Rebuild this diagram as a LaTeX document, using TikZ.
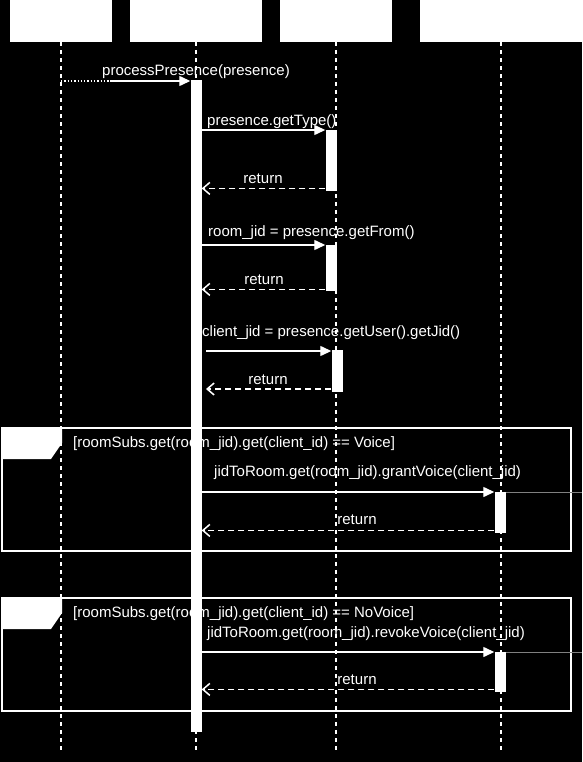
\documentclass[tikz,border=0pt]{standalone}
\usepackage{fontspec}
\setmainfont{Liberation Sans}
\usetikzlibrary{arrows.meta}
\begin{document}
\begin{tikzpicture}[x=1pt,y=-1pt,
  lbl/.style={font=\fontsize{15}{17}\selectfont, text=white, inner sep=0pt, anchor=base west},
  rlbl/.style={font=\fontsize{15}{17}\selectfont, text=white, inner sep=0pt, anchor=base},
  head/.style={fill=white, draw=none, inner sep=0pt, minimum height=42pt, anchor=north},
  life/.style={white, dash pattern=on 4pt off 4pt, line width=1.4pt},
  act/.style={fill=white, draw=none, inner sep=0pt, minimum width=11pt, anchor=north},
  call/.style={white, line width=1.3pt, -{Triangle[width=10pt,length=11pt]}},
  ret/.style={white, line width=1.5pt, dash pattern=on 6pt off 4pt, -{Straight Barb[width=12pt,length=7pt,line width=1.5pt]}},
  frm/.style={draw=white, line width=1.4pt},
  thin/.style={gray, line width=0.5pt}
]
\fill[black] (0,0) rectangle (582,762);
\useasboundingbox (0,0) rectangle (582,762);

% headers
\node[head, minimum width=102pt] (h1) at (61,0) {};
\node[head, minimum width=132pt] (h2) at (196,0) {};
\node[head, minimum width=112pt] (h3) at (336,0) {};
\node[head, minimum width=162pt] (h4) at (501,0) {};

% lifeline ends
\coordinate (e1) at (61,750);
\coordinate (e2) at (196,750);
\coordinate (e3) at (336,750);
\coordinate (e4) at (501,750);
\draw[life] (h1.south) -- (e1);
\draw[life] (h2.south) -- (e2);
\draw[life] (h3.south) -- (e3);
\draw[life] (h4.south) -- (e4);

% frames
\draw[frm] (2,428) rectangle (571,551);
\fill[white] (2,428) -- (62,428) -- (62,443) -- (51,459) -- (2,459) -- cycle;
\draw[frm] (2,598) rectangle (571,711);
\fill[white] (2,598) -- (62,598) -- (62,613) -- (51,629) -- (2,629) -- cycle;

% activations
\node[act, minimum height=652pt] (a2) at (196,80) {};
\node[act, minimum height=61pt] (a3a) at (331,130) {};
\node[act, minimum height=46pt] (a3b) at (331,245) {};
\node[act, minimum height=42pt] (a3c) at (337,350) {};
\node[act, minimum height=41pt] (a4a) at (500,492) {};
\node[act, minimum height=40pt] (a4b) at (500,652) {};

% message 1
\coordinate (m1a) at (61,81);
\coordinate (m1b) at (110,81);
\draw[white, line width=1.3pt, dotted] (m1a) -- (m1b);
\draw[call] (m1b) -- (a2.north west |- m1b);
\node[lbl] (t1) at (102,76) {processPresence(presence)};

% getType
\draw[call] (a2.east |- a3a.north) -- (a3a.north west);
\node[lbl] (t2) at (207,126) {presence.getType()};
\draw[ret] ([yshift=3pt]a3a.south west) -- ([yshift=3pt]a2.east |- a3a.south);
\node[rlbl] (r2) at (263,183) {return};

% getFrom
\draw[call] (a2.east |- a3b.north) -- (a3b.north west);
\node[lbl] (t3) at (208,236) {room\_jid = presence.getFrom()};
\draw[ret] ([yshift=2pt]a3b.south west) -- ([yshift=2pt]a2.east |- a3b.south);
\node[rlbl] (r3) at (264,284) {return};

% getJid
\coordinate (c4) at (206,351);
\draw[call] (c4) -- (a3c.west |- c4);
\node[lbl] (t4) at (202,336) {client\_jid = presence.getUser().getJid()};
\coordinate (c4r) at (206,389);
\draw[ret] (a3c.west |- c4r) -- (c4r);
\node[rlbl] (r4) at (268,384) {return};

% frame 1
\node[lbl] (g1) at (73,447) {[roomSubs.get(room\_jid).get(client\_id) == Voice]};
\draw[call] (a2.east |- a4a.north) -- (a4a.north west);
\coordinate (x1) at (582,492);
\draw[thin] (a4a.north east) -- (x1);
\node[lbl] (t5) at (214,476) {jidToRoom.get(room\_jid).grantVoice(client\_jid)};
\draw[ret] ([yshift=3pt]a4a.south west) -- ([yshift=3pt]a2.east |- a4a.south);
\node[rlbl] (r5) at (357,524) {return};

% frame 2
\node[lbl] (g2) at (73,617) {[roomSubs.get(room\_jid).get(client\_id) == NoVoice]};
\draw[call] (a2.east |- a4b.north) -- (a4b.north west);
\coordinate (x2) at (582,652);
\draw[thin] (a4b.north east) -- (x2);
\node[lbl] (t6) at (207,637) {jidToRoom.get(room\_jid).revokeVoice(client\_jid)};
\draw[ret] ([yshift=3pt]a4b.south west) -- ([yshift=3pt]a2.east |- a4b.south);
\node[rlbl] (r6) at (357,684) {return};
\end{tikzpicture}
\end{document}
